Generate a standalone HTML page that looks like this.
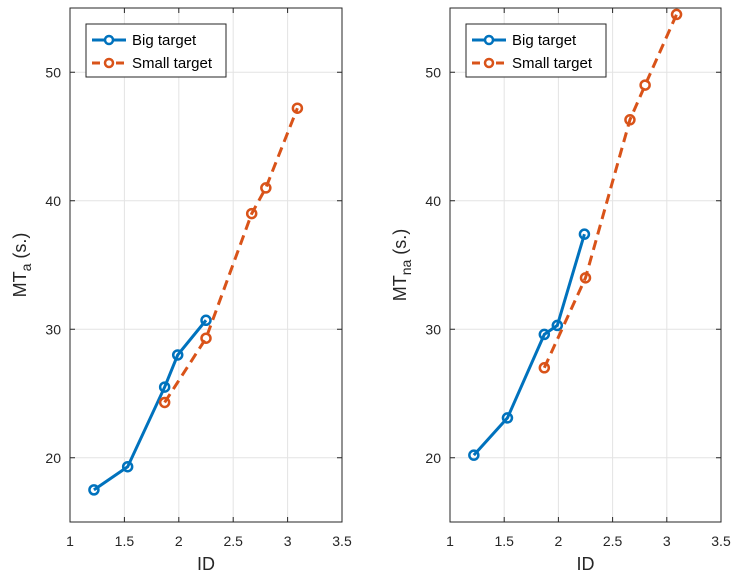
<!DOCTYPE html>
<html><head><meta charset="utf-8"><style>
body{margin:0;background:#fff;}
svg{display:block;font-family:"Liberation Sans",sans-serif;}
</style></head><body>
<svg id="c" width="737" height="578"></svg>
<script>
const xTicks=[1,1.5,2,2.5,3,3.5];
const xTickLabels=["1","1.5","2","2.5","3","3.5"];
const yTicks=[20,30,40,50];
const yTickLabels=["20","30","40","50"];
const bigXLeft=[1.22,1.53,1.87,1.99,2.25];
const bigYLeft=[17.5,19.3,25.5,28.0,30.7];
const smallXLeft=[1.87,2.25,2.67,2.80,3.09];
const smallYLeft=[24.3,29.3,39.0,41.0,47.2];
const bigXRight=[1.22,1.53,1.87,1.99,2.24];
const bigYRight=[20.2,23.1,29.6,30.3,37.4];
const smallXRight=[1.87,2.25,2.66,2.80,3.09];
const smallYRight=[27.0,34.0,46.3,49.0,54.5];
const NS="http://www.w3.org/2000/svg";
const svg=document.getElementById('c');
function mk(tag,attrs,parent){const e=document.createElementNS(NS,tag);for(const k in attrs)e.setAttribute(k,attrs[k]);(parent||svg).appendChild(e);return e;}
function panel(id,x0,x1,bx,by,sx,sy,sub){
  const top=8,bot=522;
  const g=mk('g',{});
  
  
  const X=v=>x0+(v-1)/2.5*(x1-x0);
  const Y=v=>bot-(v-15)/40*(bot-top);
  mk('rect',{x:x0,y:top,width:x1-x0,height:bot-top,fill:'#fff'},g);
  xTicks.forEach((t,i)=>{
    const l=mk('line',{x1:X(t),x2:X(t),y1:top,y2:bot,stroke:'#e3e3e3','stroke-width':1},g);
    
    mk('line',{x1:X(t),x2:X(t),y1:bot,y2:bot-5,stroke:'#262626'},g);
    mk('line',{x1:X(t),x2:X(t),y1:top,y2:top+5,stroke:'#262626'},g);
    const tx=mk('text',{x:X(t),y:bot+24,'text-anchor':'middle','font-size':14,fill:'#262626'},g);
    tx.textContent=xTickLabels[i];
    
  });
  yTicks.forEach((t,i)=>{
    const l=mk('line',{x1:x0,x2:x1,y1:Y(t),y2:Y(t),stroke:'#e3e3e3','stroke-width':1},g);
    
    mk('line',{x1:x0,x2:x0+5,y1:Y(t),y2:Y(t),stroke:'#262626'},g);
    mk('line',{x1:x1,x2:x1-5,y1:Y(t),y2:Y(t),stroke:'#262626'},g);
    const tx=mk('text',{x:x0-9,y:Y(t)+5,'text-anchor':'end','font-size':14,fill:'#262626'},g);
    tx.textContent=yTickLabels[i];
    
  });
  mk('rect',{x:x0,y:top,width:x1-x0,height:bot-top,fill:'none',stroke:'#262626','stroke-width':1},g);
  function series(xs,ys,color,dash,name){
    const p=mk('polyline',{points:xs.map((v,i)=>X(v)+','+Y(ys[i])).join(' '),fill:'none',stroke:color,'stroke-width':3,'stroke-dasharray':dash},g);
    
    xs.forEach((v,i)=>{const c=mk('circle',{cx:X(v),cy:Y(ys[i]),r:4.5,fill:'none',stroke:color,'stroke-width':2.5},g);
      });
  }
  series(bx,by,'#0072BD','none','big-target');
  series(sx,sy,'#D95319','10,6','small-target');
  const xl=mk('text',{x:(x0+x1)/2,y:570,'text-anchor':'middle','font-size':18,fill:'#262626'},g);
  xl.textContent='ID';
  const yl=mk('text',{transform:`translate(${x0-44},${(top+bot)/2}) rotate(-90)`,'text-anchor':'middle','font-size':18,fill:'#262626'},g);
  yl.innerHTML='MT<tspan font-size="14" dy="5">'+sub+'</tspan><tspan dy="-5"> (s.)</tspan>';
  
  const lg=mk('g',{},g);
  
  const lx=x0+16;
  mk('rect',{x:lx,y:24,width:140,height:53,fill:'#fff',stroke:'#262626','stroke-width':1},lg);
  [['Big target','#0072BD','none',40],['Small target','#D95319','8,4',63]].forEach(e=>{
    mk('line',{x1:lx+6,x2:lx+40,y1:e[3],y2:e[3],stroke:e[1],'stroke-width':3,'stroke-dasharray':e[2]},lg);
    mk('circle',{cx:lx+23,cy:e[3],r:4,fill:'#fff',stroke:e[1],'stroke-width':2.5},lg);
    const t=mk('text',{x:lx+46,y:e[3]+5,'font-size':15,fill:'#000'},lg);t.textContent=e[0];
    
  });
}
panel('left',70,342,bigXLeft,bigYLeft,smallXLeft,smallYLeft,'a');
panel('right',450,721,bigXRight,bigYRight,smallXRight,smallYRight,'na');
</script>
</body></html>
